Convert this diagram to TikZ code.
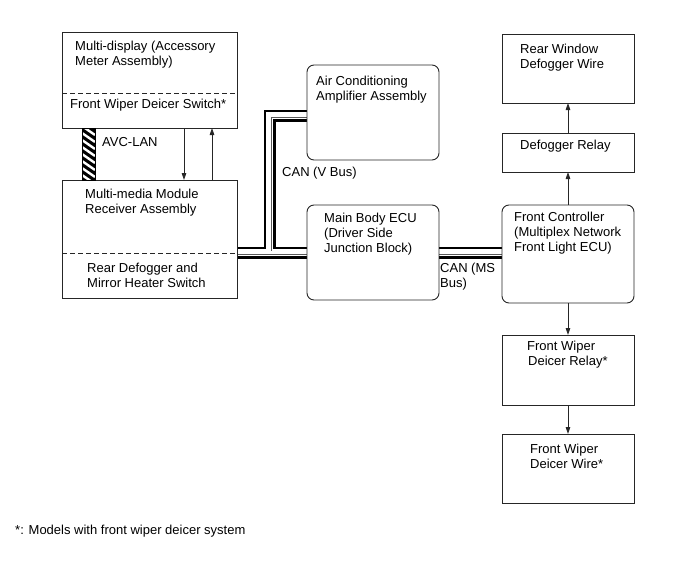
\documentclass[tikz,border=0pt]{standalone}
\usepackage{fontspec}
\setmainfont{Liberation Sans}
\usetikzlibrary{arrows.meta,backgrounds}
\begin{document}
\begin{tikzpicture}[x=1pt,y=-1pt,
  box/.style={draw=black!85, line width=0.9pt, inner sep=0pt, outer sep=0pt},
  rbox/.style={box, rounded corners=7pt},
  txt/.style={anchor=base west, inner sep=0pt, font=\fontsize{13}{15}\selectfont},
  arr/.style={draw=black!85, line width=0.8pt, -{Triangle[length=7pt,width=4.5pt]}},
  sep/.style={draw=black!85, line width=0.8pt, dash pattern=on 5pt off 3pt},
  avcbar/.style={draw=black, line width=0.8pt, fill=black, inner sep=0pt, outer sep=0pt,
    path picture={\foreach \i in {-10,...,10}
      \draw[white, line width=2.4pt] ([yshift=\i*7pt]path picture bounding box.west) -- ++(13pt,-9pt);}}
]
\useasboundingbox (0,0) rectangle (689,562);

% boxes
\node[box, minimum width=175pt, minimum height=96pt] (md) at (149.5,80) {};
\node[box, minimum width=175pt, minimum height=118pt] (mm) at (149.5,239) {};
\node[rbox, minimum width=132pt, minimum height=95pt] (ac) at (373,112.5) {};
\node[rbox, minimum width=132pt, minimum height=95pt] (mb) at (373,252.5) {};
\node[rbox, minimum width=132pt, minimum height=98pt] (fc) at (568,254) {};
\node[box, minimum width=132pt, minimum height=69pt] (rw) at (568,68.5) {};
\node[box, minimum width=132pt, minimum height=39pt] (dr) at (568,152.5) {};
\node[box, minimum width=132pt, minimum height=70pt] (fr) at (568,370) {};
\node[box, minimum width=132pt, minimum height=69pt] (fw) at (568,468.5) {};

% dashed separators
\draw[sep] (md.west |- 0,93) -- (md.east |- 0,93);
\draw[sep] (mm.west |- 0,253) -- (mm.east |- 0,253);

% AVC-LAN bar
\node[avcbar, minimum width=13pt, minimum height=52pt] (avc) at (88.5,154) {};

% arrows between multi-display and multi-media
\draw[arr] ([xshift=34.5pt]md.south) -- ([xshift=34.5pt]mm.north);
\draw[arr] ([xshift=62.5pt]mm.north) -- ([xshift=62.5pt]md.south);

% right column arrows
\draw[arr] (fc.north) -- (dr.south);
\draw[arr] (dr.north) -- (rw.south);
\draw[arr] (fc.south) -- (fr.north);
\draw[arr] (fr.south) -- (fw.north);

% buses
\coordinate (vj) at (269.5,252.5);
\coordinate (acin) at ([yshift=-3pt]ac.west);
\coordinate (mmout) at (mm.east |- vj);
\coordinate (mbin) at (mb.west |- vj);
\coordinate (mbout) at (mb.east |- vj);
\coordinate (fcin) at (fc.west |- vj);
\begin{scope}[on background layer]
\foreach \w/\c in {12/black, 7/white, 4/black!65, 2.2/white}{
  \draw[line width=\w pt, \c] (mmout) -- (mbin) (vj) |- (acin) (mbout) -- (fcin);
}
\end{scope}

% texts
\node[txt] (t1) at (75,50) {Multi-display (Accessory};
\node[txt] (t2) at (75,65) {Meter Assembly)};
\node[txt] (t3) at (70,108) {Front Wiper Deicer Switch*};
\node[txt] (t4) at (102,146) {AVC-LAN};
\node[txt] (t5) at (85,198) {Multi-media Module};
\node[txt] (t6) at (85,213) {Receiver Assembly};
\node[txt] (t7) at (87,272) {Rear Defogger and};
\node[txt] (t8) at (87,287) {Mirror Heater Switch};
\node[txt] (t9) at (316,85) {Air Conditioning};
\node[txt] (t10) at (316,100) {Amplifier Assembly};
\node[txt] (t11) at (282,176) {CAN (V Bus)};
\node[txt] (t12) at (324,222) {Main Body ECU};
\node[txt] (t13) at (324,237) {(Driver Side};
\node[txt] (t14) at (324,252) {Junction Block)};
\node[txt] (t15) at (440,272) {CAN (MS};
\node[txt] (t16) at (440,287) {Bus)};
\node[txt] (t17) at (514,221) {Front Controller};
\node[txt] (t18) at (514,236) {(Multiplex Network};
\node[txt] (t19) at (514,251) {Front Light ECU)};
\node[txt] (t20) at (520,53) {Rear Window};
\node[txt] (t21) at (520,68) {Defogger Wire};
\node[txt] (t22) at (520,149) {Defogger Relay};
\node[txt] (t23) at (527,350) {Front Wiper};
\node[txt] (t24) at (528,365) {Deicer Relay*};
\node[txt] (t25) at (530,453) {Front Wiper};
\node[txt] (t26) at (530,468) {Deicer Wire*};
\node[txt] (t27) at (15,534) {*: Models with front wiper deicer system};
\end{tikzpicture}
\end{document}
